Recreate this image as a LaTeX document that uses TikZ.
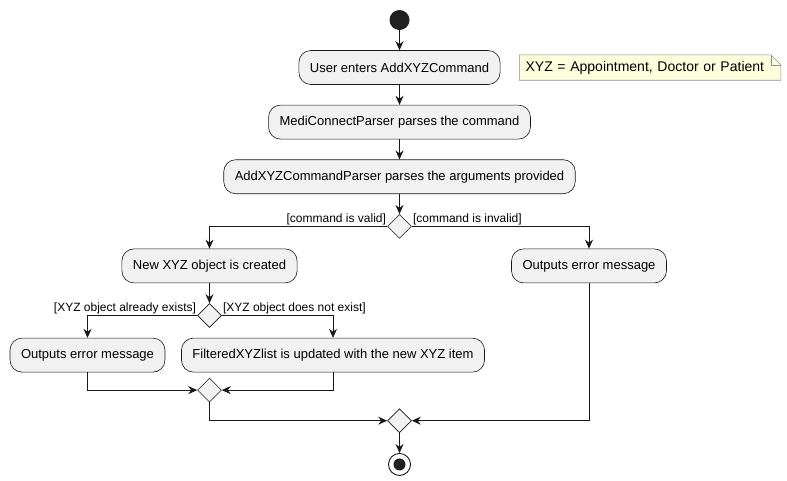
\documentclass[tikz,border=0pt]{standalone}
\usepackage{fontspec}
\setmainfont{Liberation Sans}
\usetikzlibrary{positioning, shapes.geometric, arrows.meta, backgrounds}
\definecolor{actfill}{HTML}{F1F1F1}
\definecolor{ink}{HTML}{181818}
\definecolor{notefill}{HTML}{FEFFDD}
\definecolor{noteline}{HTML}{8E8E8E}
\tikzset{
    >={Stealth[length=9pt, width=8pt, inset=3pt]}, % plantuml like arrow heads
    act/.style={rectangle, rounded corners=12pt, draw=ink, line width=0.6pt, fill=actfill,
        minimum height=34pt, inner xsep=11pt, font=\fontsize{13}{15}\selectfont}, % the activities
    branch/.style={diamond, draw=ink, line width=0.6pt, fill=actfill, minimum width=24pt,
        minimum height=24pt, inner sep=0pt}, % decisions and merges
    guard/.style={inner sep=1pt, font=\fontsize{12}{14}\selectfont}, % the [..] texts
    flow/.style={->, draw=ink, line width=0.8pt}, % arrows between nodes
    hv/.style={to path={-| (\tikztotarget) \tikztonodes}},
    vh/.style={to path={|- (\tikztotarget) \tikztonodes}},
}

\begin{document}
\begin{tikzpicture}
    \useasboundingbox (0,0) rectangle (787pt,-480pt);
    \node[circle, fill=black!87, minimum size=20pt, inner sep=0pt] (start) at (399.5pt,-20pt) {};
    \node[act, below=20pt of start] (enter) {User enters AddXYZCommand};
    \node[act, below=20pt of enter] (parse) {MediConnectParser parses the command};
    \node[act, below=20pt of parse] (args) {AddXYZCommandParser parses the arguments provided};
    \node[branch, below=20pt of args] (d1) {};
    \node[act, below=10pt of d1, xshift=-190pt] (created) {New XYZ object is created};
    \node[act, below=10pt of d1, xshift=189.5pt] (invalid) {Outputs error message};
    \node[branch, below=20pt of created] (d2) {};
    \node[act, below=10pt of d2, xshift=-122pt] (exists) {Outputs error message};
    \node[act, below=10pt of d2, xshift=123.5pt] (notexist) {FilteredXYZlist is updated with the new XYZ item};
    \node[branch, below=50pt of d2] (d3) {};
    \node[branch, below=6pt of d3, xshift=190pt] (d4) {};
    \node[circle, draw=ink, line width=0.9pt, fill=white, minimum size=22pt, inner sep=0pt, below=20pt of d4,
        path picture={\fill[black!87] (path picture bounding box.center) circle (6pt);}] (end) {};
    % guards
    \node[guard, above left=0pt of d1.west] (valid) {[command is valid]};
    \node[guard, above right=0pt of d1.east] (notvalid) {[command is invalid]};
    \node[guard, above left=0pt of d2.west] (already) {[XYZ object already exists]};
    \node[guard, above right=0pt of d2.east] (noexist) {[XYZ object does not exist]};
    % note
    \node[right=19pt of enter, minimum height=25pt, text width=249pt, inner xsep=6pt, inner ysep=0pt,
        font=\fontsize{14}{16}\selectfont] (note) {XYZ = Appointment, Doctor or Patient};
    \begin{scope}[on background layer]
        \draw[noteline, fill=notefill, line width=0.6pt] (note.north west) -- ([xshift=-10pt]note.north east)
            -- ([yshift=-10pt]note.north east) -- (note.south east) -- (note.south west) -- cycle;
        \draw[noteline, line width=0.6pt] ([xshift=-10pt]note.north east) |- ([yshift=-10pt]note.north east);
    \end{scope}
    \path[every edge/.append style={flow}] (start) edge (enter)
        (enter) edge (parse)
        (parse) edge (args)
        (args) edge (d1)
        (d1.west) edge[hv] (created)
        (d1.east) edge[hv] (invalid)
        (created) edge (d2)
        (d2.west) edge[hv] (exists)
        (d2.east) edge[hv] (notexist)
        (exists) edge[vh] (d3.west)
        (notexist) edge[vh] (d3.east)
        (d3) edge[vh] (d4.west)
        (invalid) edge[vh] (d4.east)
        (d4) edge (end);
\end{tikzpicture}
\end{document}
